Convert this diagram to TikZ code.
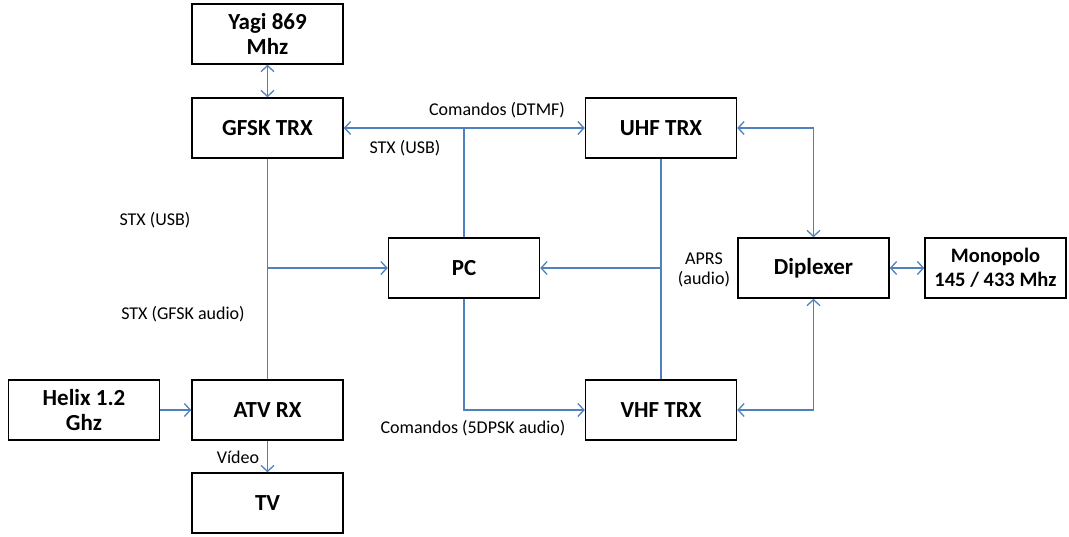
\documentclass[tikz,border=0pt]{standalone}
\usepackage{fontspec}
\setmainfont{Carlito}
\usepackage{tikz}
\usetikzlibrary{arrows.meta}
\usetikzlibrary{calc}
\definecolor{linkblue}{RGB}{79,129,189}
\newcommand{\BoxWidth}{151}
\newcommand{\BoxHeight}{60}
\newcommand{\BlockBox}[3]{
  \node [block] (#1) at #2 {#3};
}
\newcommand{\LinkLabel}[3]{
  \node [linklabel, anchor = #3] at #1 {#2};
}

\begin{document}
\begin{tikzpicture}[x=1pt, y=-1pt,
  block/.style = {draw, line width=1.5pt, minimum width=\BoxWidth pt, minimum height=\BoxHeight pt,
    inner sep=0pt, align=center, font=\fontsize{23}{25}\selectfont\bfseries},
  link/.style = {draw=linkblue, line width=1.6pt, arrows={-Straight Barb[length=6pt,width=13pt,line width=1.3pt]}},
  bilink/.style = {link, arrows={Straight Barb[length=6pt,width=13pt,line width=1.3pt]-Straight Barb[length=6pt,width=13pt,line width=1.3pt]}},
  plain/.style = {draw=linkblue, line width=1.6pt},
  linklabel/.style = {inner sep=1pt, align=center, font=\fontsize{18}{20}\selectfont}]
\useasboundingbox (0,0) rectangle (1069,536);

% blocks
\BlockBox{yagi}{(267.5,34)}{Yagi 869\\Mhz}
\BlockBox{gfsk}{(267.5,128)}{GFSK TRX}
\BlockBox{uhf}{(661,128)}{UHF TRX}
\BlockBox{pc}{(464,268)}{PC}
\BlockBox{dipl}{(813.5,268)}{Diplexer}
\node [block, minimum width=141pt, font=\fontsize{20.5}{24}\selectfont\bfseries] (mono) at (995.5,268) {Monopolo\\145 / 433 Mhz};
\BlockBox{helix}{(84,410)}{Helix 1.2\\Ghz}
\BlockBox{atv}{(267.5,410)}{ATV RX}
\BlockBox{vhf}{(661,410)}{VHF TRX}
\BlockBox{tv}{(267.5,503)}{TV}

% junctions
\coordinate (jtop) at (pc.north |- gfsk.east);
\coordinate (jleft) at (gfsk.south |- pc.west);
\coordinate (jright) at (uhf.south |- pc.east);
\coordinate (juhf) at (dipl.north |- uhf.east);
\coordinate (jvhf) at (dipl.south |- vhf.east);
\coordinate (jpc) at (pc.south |- vhf.west);

% links
\draw [bilink] (yagi) -- (gfsk);
\draw [bilink] (gfsk.east) -- (uhf.west);
\draw [plain] (jtop) -- (pc.north);
\draw [plain] (gfsk.south) -- (atv.north);
\draw [link] (jleft) -- (pc.west);
\draw [plain] (uhf.south) -- (vhf.north);
\draw [link] (jright) -- (pc.east);
\draw [link] (pc.south) -- (jpc) -- (vhf.west);
\draw [bilink] (uhf.east) -- (juhf) -- (dipl.north);
\draw [bilink] (vhf.east) -- (jvhf) -- (dipl.south);
\draw [bilink] (dipl.east) -- (mono.west);
\draw [link] (helix.east) -- (atv.west);
\draw [link] (atv.south) -- (tv.north);

% labels
\LinkLabel{(497,110)}{Comandos (DTMF)}{center}
\LinkLabel{(405,148)}{STX (USB)}{center}
\LinkLabel{(155,220)}{STX (USB)}{center}
\LinkLabel{(183,314)}{STX (GFSK audio)}{center}
\LinkLabel{(704,270)}{APRS\\(audio)}{center}
\LinkLabel{(473,428)}{Comandos (5DPSK audio)}{center}
\LinkLabel{(238,457)}{Vídeo}{center}

\end{tikzpicture}
\end{document}
